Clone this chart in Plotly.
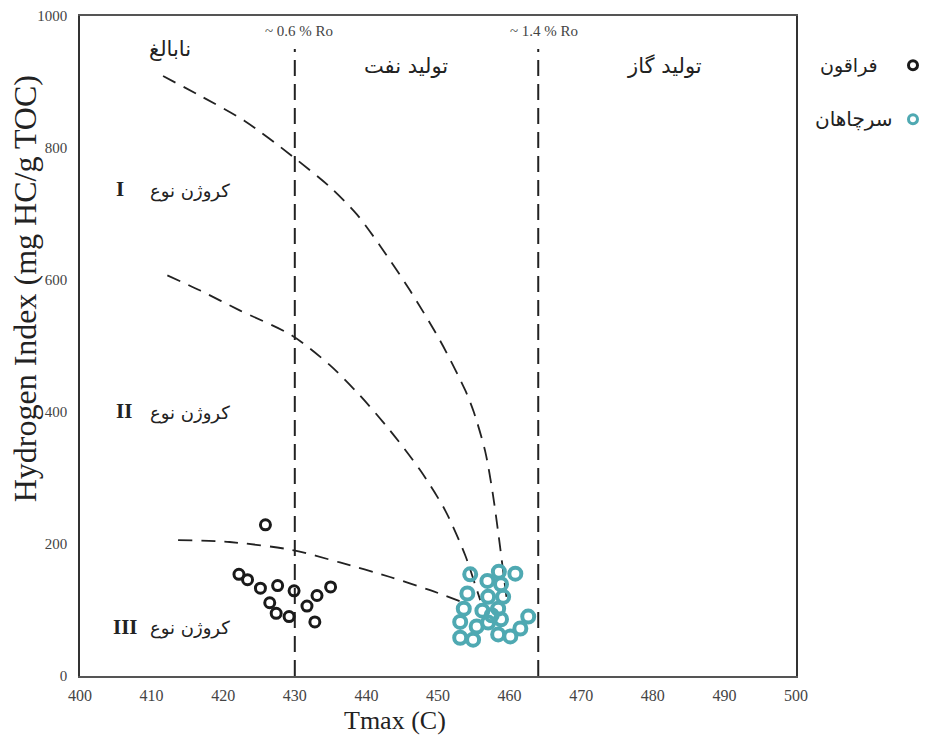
import plotly.graph_objects as go

# ---------------- data ----------------
faraghun_tmax = [425.9, 422.2, 423.4, 425.2, 427.6, 429.9, 426.5, 427.4, 429.2, 431.7, 433.1, 435.0, 432.8]
faraghun_hi   = [229,   154,   146,   133,   137,   129,   111,   95,    90,    106,   122,   135,   82]

sarchahan_tmax = [454.5, 456.9, 458.5, 460.8, 458.8, 454.1, 457.0, 459.1, 453.6, 456.2, 458.4,
                  457.5, 458.8, 453.1, 455.4, 457.0, 462.6, 461.5, 453.1, 454.9, 458.4, 460.1]
sarchahan_hi   = [154,   144,   158,   155,   139,   125,   120,   120,   102,   99,    102,
                  92,    86,    82,    75,    81,    90,    72,    58,    55,    63,    60]

# kerogen type boundary curves (dashed)
curve1_tmax = [411.6, 416.8, 423.0, 429.6, 434.9, 438.7, 441.9, 446.1, 450.3, 453.8, 455.0, 456.6, 457.6, 458.5, 459.2, 459.7]
curve1_hi   = [909,   879,   841,   788,   741,   699,   652,   584,   508,   433,   400,   340,   280,   210,   150,   108]
curve2_tmax = [412.2, 416.8, 422.3, 429.6, 434.9, 439.1, 443.3, 447.5, 451.0, 453.8, 455.2, 455.9]
curve2_hi   = [607,   584,   554,   516,   471,   425,   372,   312,   251,   183,   138,   115]
curve3_tmax = [413.7, 420.9, 429.6, 436.3, 443.3, 448.9, 453.4]
curve3_hi   = [206,   203,   191,   172,   150,   130,   112]

# maturity boundaries (vitrinite reflectance)
ro_tmax = [430, 464]
ro_labels = ["~ 0.6 % Ro", "~ 1.4 % Ro"]
ro_top = 950

x_ticks = [400, 410, 420, 430, 440, 450, 460, 470, 480, 490, 500]
y_ticks = [0, 200, 400, 600, 800, 1000]

zone_labels = ["نابالغ", "تولید نفت", "تولید گاز"]
zone_x = [412.5, 445.5, 481.6]
zone_y = [950, 925, 925]

kerogen_label = "کروژن نوع"
kerogen_types = ["I", "II", "III"]
kerogen_y = [735, 398, 72]
kerogen_num_x = [405.6, 406.1, 406.4]

legend_names = ["فراقون", "سرچاهان"]

BLACK = "#1a1a1a"
TEAL = "#4fa9b2"
SERIF = "Liberation Serif, Times New Roman, serif"
SANS = "DejaVu Sans, Noto Sans, sans-serif"

fig = go.Figure()

dash = "14px,9px"
for cx, cy in [(curve1_tmax, curve1_hi), (curve2_tmax, curve2_hi), (curve3_tmax, curve3_hi)]:
    fig.add_trace(go.Scatter(x=cx, y=cy, mode="lines", line=dict(color="#222", width=1.8, dash=dash,
                             shape="spline", smoothing=0.8), showlegend=False, hoverinfo="skip"))

for rx in ro_tmax:
    fig.add_trace(go.Scatter(x=[rx, rx], y=[0, ro_top], mode="lines",
                             line=dict(color="#222", width=2, dash="16px,8px"),
                             showlegend=False, hoverinfo="skip"))

fig.add_trace(go.Scatter(x=faraghun_tmax, y=faraghun_hi, mode="markers", name=legend_names[0],
                         marker=dict(symbol="circle-open", size=10, color=BLACK, line=dict(width=3, color=BLACK)),
                         showlegend=False))
fig.add_trace(go.Scatter(x=sarchahan_tmax, y=sarchahan_hi, mode="markers", name=legend_names[1],
                         marker=dict(symbol="circle-open", size=12, color=TEAL, line=dict(width=4, color=TEAL)),
                         showlegend=False))

ann = []
ro_label_x = [430.6, 464.8]
for lab, rx in zip(ro_labels, ro_label_x):
    ann.append(dict(x=rx, y=977, text=lab, showarrow=False, xref="x", yref="y",
                    font=dict(family=SERIF, size=15, color="#444")))
for lab, zx, zy in zip(zone_labels, zone_x, zone_y):
    ann.append(dict(x=zx, y=zy, text=lab, showarrow=False, font=dict(family=SANS, size=21, color="#222")))
for kt, ky, kx in zip(kerogen_types, kerogen_y, kerogen_num_x):
    ann.append(dict(x=415.4, y=ky, text=kerogen_label, showarrow=False,
                    font=dict(family=SANS, size=18, color="#222")))
    ann.append(dict(x=kx, y=ky + 3, text="<b>" + kt + "</b>", showarrow=False,
                    font=dict(family=SERIF, size=21, color="#222")))

# axis titles (paper coords; plot area is 716 x 660 px)
ann.append(dict(x=-0.0768, y=0.586, xref="paper", yref="paper", text="Hydrogen Index (mg HC/g TOC)",
                xanchor="center", yanchor="middle",
                textangle=-90, showarrow=False, font=dict(family=SERIF, size=32, color="#222")))
ann.append(dict(x=0.44, y=-0.0667, xref="paper", yref="paper", text="Tmax (C)",
                xanchor="center", yanchor="middle",
                showarrow=False, font=dict(family=SERIF, size=26, color="#222")))

# legend (markers on the right of text)
ann.append(dict(x=1.1173, y=0.9255, xref="paper", yref="paper", text=legend_names[0],
                xanchor="right", yanchor="middle",
                showarrow=False, font=dict(family=SANS, size=19, color="#222")))
ann.append(dict(x=1.1383, y=0.8436, xref="paper", yref="paper", text=legend_names[1],
                xanchor="right", yanchor="middle",
                showarrow=False, font=dict(family=SANS, size=20, color="#222")))

shapes = [
    dict(type="circle", xref="paper", yref="paper", x0=1.1634 - 0.0063, x1=1.1634 + 0.0063,
         y0=0.9255 - 0.0068, y1=0.9255 + 0.0068, line=dict(color=BLACK, width=3)),
    dict(type="circle", xref="paper", yref="paper", x0=1.1634 - 0.0063, x1=1.1634 + 0.0063,
         y0=0.8436 - 0.0068, y1=0.8436 + 0.0068, line=dict(color=TEAL, width=3)),
]

fig.update_layout(
    width=931, height=735,
    margin=dict(l=72, r=143, t=8, b=67),
    plot_bgcolor="white", paper_bgcolor="white",
    annotations=ann, shapes=shapes,
    xaxis=dict(range=[400, 500], tickvals=x_ticks, showgrid=False, zeroline=False, automargin=False,
               showline=True, linecolor="#555", linewidth=1.5, mirror=True, ticks="",
               ticklabelstandoff=4, ticklabeloverflow="allow",
               tickfont=dict(family=SERIF, size=16, color="#444")),
    yaxis=dict(range=[0, 1000], tickvals=y_ticks, showgrid=False, zeroline=False, automargin=False,
               showline=True, linecolor="#333", linewidth=1.5, mirror=True, ticks="",
               ticklabelstandoff=8, ticklabeloverflow="allow",
               tickfont=dict(family=SERIF, size=15, color="#444")),
)

fig.write_html("out.html")
